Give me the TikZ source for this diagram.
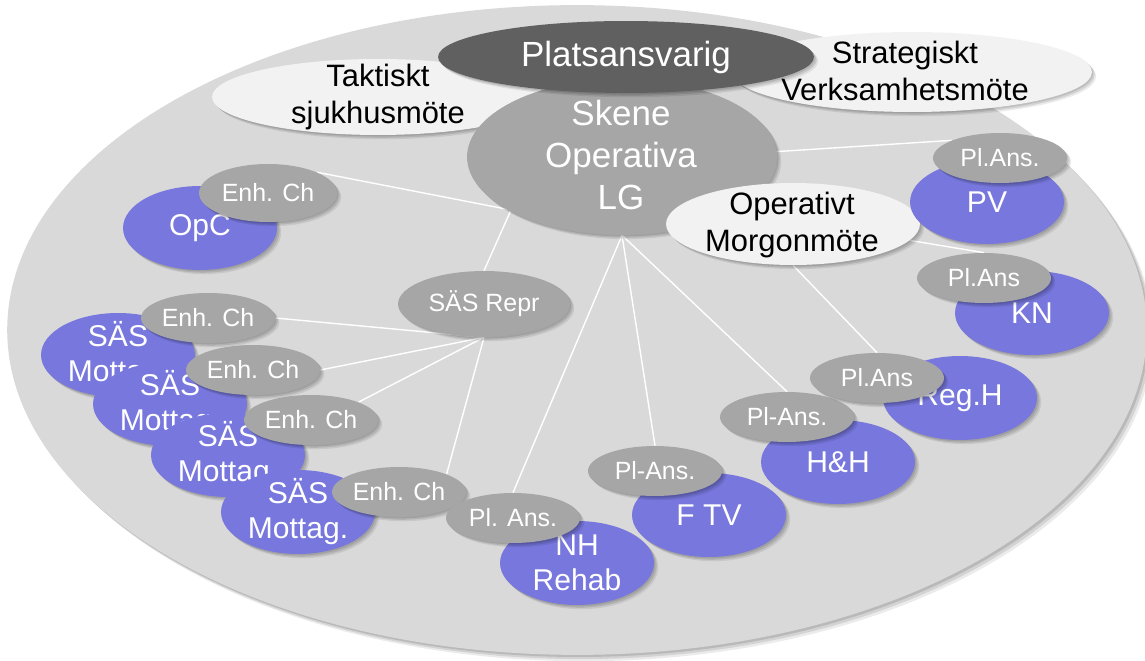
\documentclass[tikz,border=0pt]{standalone}
\usepackage{fontspec}
\setmainfont{Liberation Sans}
\usetikzlibrary{shapes.geometric,shadows}

\definecolor{fieldgray}{HTML}{D9D9D9}
\definecolor{unitblue}{HTML}{7777DD}
\definecolor{rolegray}{HTML}{A6A6A6}
\definecolor{headgray}{HTML}{606060}
\definecolor{meetgray}{HTML}{F2F2F2}

\pgfdeclarelayer{field}
\pgfdeclarelayer{links}
\pgfsetlayers{field,links,main}

\tikzset{
  % soft shadow built from a few stacked translucent copies
  soft/.style={
    drop shadow={shadow xshift=0.8pt, shadow yshift=-0.8pt, opacity=0.10, fill=black},
    drop shadow={shadow xshift=1.6pt, shadow yshift=-1.6pt, opacity=0.10, fill=black},
    drop shadow={shadow xshift=2.4pt, shadow yshift=-2.4pt, opacity=0.08, fill=black}},
  ov/.style 2 args={ellipse, inner sep=0pt,
    minimum width=#1*0.04cm, minimum height=#2*0.04cm, soft},
  unit/.style={ov={77}{42}, fill=unitblue},
  role/.style={ov={67}{25}, fill=rolegray},
  meet/.style 2 args={ov={#1}{#2}, fill=meetgray},
  link/.style={draw=white, line width=0.8pt},
  wtxt/.style={text=white, align=center, inner sep=0pt,
    font=\fontsize{17.1}{19.9}\selectfont},
  rtxt/.style={text=white, align=center, inner sep=0pt,
    font=\fontsize{14.2}{17}\selectfont},
  btxt/.style={text=black, align=center, inner sep=0pt,
    font=\fontsize{17.6}{21}\selectfont},
  htxt/.style={text=white, align=center, inner sep=0pt,
    font=\fontsize{19.9}{23.9}\selectfont},
}

\begin{document}
\begin{tikzpicture}[x=0.02cm, y=-0.02cm]
\useasboundingbox (0,0) rectangle (1145,661);

% the organisation field
\begin{pgfonlayer}{field}
\node[ellipse, inner sep=0pt, minimum width=570*0.04cm, minimum height=325*0.04cm,
  fill=fieldgray,
  drop shadow={shadow xshift=1.2pt, shadow yshift=-1.2pt, opacity=0.12, fill=black},
  drop shadow={shadow xshift=2.4pt, shadow yshift=-2.4pt, opacity=0.10, fill=black},
  drop shadow={shadow xshift=3.6pt, shadow yshift=-3.6pt, opacity=0.08, fill=black}]
  (field) at (577,330) {};
\end{pgfonlayer}

% meetings and leadership
\node[meet={166}{38}] (tk) at (378,97) {};
\node[btxt] (tkT) at (tk) {Taktiskt\\sjukhusmöte};
\node[meet={180}{40}] (st) at (912,72) {};
\node[btxt] (stT) at (905,71) {Strategiskt\\Verksamhetsmöte};
\node[ov={155}{78}, fill=rolegray] (sk) at (622,157) {};
\node[htxt] (skT) at (621,155) {Skene\\Operativa\\LG};
\node[ov={188}{36}, fill=headgray] (pl) at (626,57) {};
\node[htxt] (plT) at (pl) {Platsansvarig};
\node[meet={127}{41}] (om) at (793,224) {};
\node[btxt] (omT) at (792,225) {Operativt\\Morgonmöte};

% OpC
\node[unit] (opc) at (200,228) {};
\node[wtxt] (opcT) at (opc) {OpC};
\node[ov={69}{29}, fill=rolegray] (eo) at (268,193) {};
\node[rtxt] (eoT) at (eo) {Enh. Ch};

% SÄS representative
\node[ov={86}{33}, fill=rolegray] (sr) at (484,304) {};
\node[rtxt] (srT) at (sr) {SÄS Repr};

% SÄS receptions
\node[unit] (m1) at (118,355) {};
\node[wtxt] (m1T) at (m1) {SÄS\\Mottag.};
\node[role] (e1) at (208,318) {};
\node[rtxt] (e1T) at (e1) {Enh. Ch};
\node[unit] (m2) at (170,404) {};
\node[wtxt] (m2T) at (m2) {SÄS\\Mottag.};
\node[role] (e2) at (253,370) {};
\node[rtxt] (e2T) at (e2) {Enh. Ch};
\node[unit] (m3) at (228,455) {};
\node[wtxt] (m3T) at (m3) {SÄS\\Mottag.};
\node[role] (e3) at (311,420) {};
\node[rtxt] (e3T) at (e3) {Enh. Ch};
\node[unit] (m4) at (298,512) {};
\node[wtxt] (m4T) at (m4) {SÄS\\Mottag.};
\node[role] (e4) at (399,492) {};
\node[rtxt] (e4T) at (e4) {Enh. Ch};

% units along the rim
\node[unit] (nh) at (577,563) {};
\node[wtxt] (nhT) at (nh) {NH\\Rehab};
\node[role] (pnh) at (513,518) {};
\node[rtxt] (pnhT) at (pnh) {Pl. Ans.};
\node[unit] (ftv) at (709,515) {};
\node[wtxt] (ftvT) at (ftv) {F TV};
\node[role] (pft) at (655,471) {};
\node[rtxt] (pftT) at (pft) {Pl-Ans.};
\node[unit] (hh) at (838,462) {};
\node[wtxt] (hhT) at (hh) {H\&H};
\node[role] (phh) at (787,417) {};
\node[rtxt] (phhT) at (phh) {Pl-Ans.};
\node[unit] (rg) at (960,398) {};
\node[wtxt] (rgT) at (rg) {Reg.H};
\node[role] (prg) at (877,378) {};
\node[rtxt] (prgT) at (prg) {Pl.Ans};
\node[unit] (kn) at (1032,313) {};
\node[wtxt] (knT) at (kn) {KN};
\node[role] (pkn) at (984,278) {};
\node[rtxt] (pknT) at (pkn) {Pl.Ans};
\node[unit] (pv) at (987,202) {};
\node[wtxt] (pvT) at (pv) {PV};
\node[role] (ppv) at (1000,158) {};
\node[rtxt] (ppvT) at (ppv) {Pl.Ans.};

% reporting lines
\coordinate (bend) at (511,210);
\begin{pgfonlayer}{links}
\draw[link] (eo.north east) -- (bend) -- (sr.north);
\draw[link] (sr.south) -- (e1.east);
\draw[link] (sr.south) -- (e2.east);
\draw[link] (sr.south) -- (e3.north east);
\draw[link] (sr.south) -- (e4.north east);
\draw[link] (sk.south) -- (pnh.north);
\draw[link] (sk.south) -- (pft.north);
\draw[link] (sk.south) -- (phh.north);
\draw[link] (om.south) -- (prg.north);
\draw[link] (om.-8) -- (pkn.north);
\draw[link] (sk.2) -- (ppv.160);
\end{pgfonlayer}
\end{tikzpicture}
\end{document}
